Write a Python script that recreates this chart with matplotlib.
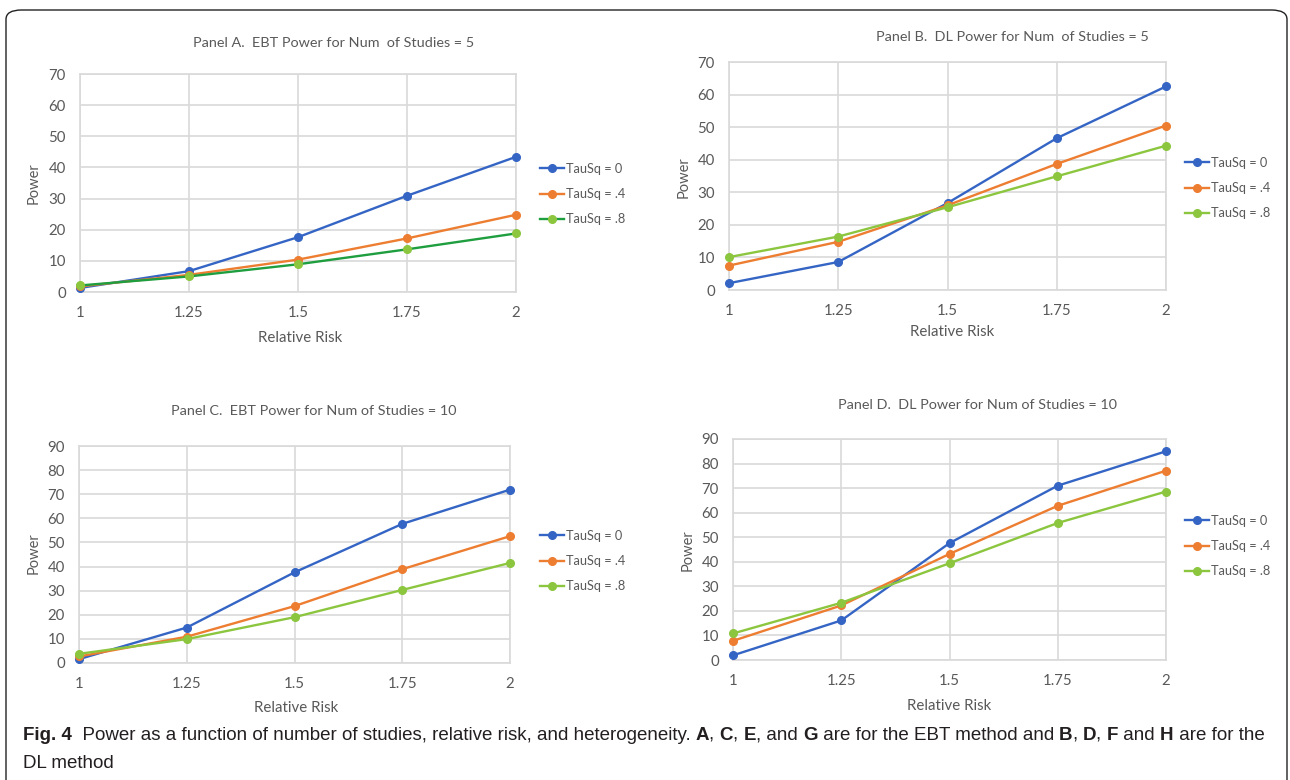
import numpy as np
import matplotlib.pyplot as plt
from matplotlib.patches import FancyBboxPatch

# --- data ---
rel_risk = [1, 1.25, 1.5, 1.75, 2]
series_labels = ['TauSq = 0', 'TauSq = .4', 'TauSq = .8']

# Panel A: EBT, 5 studies
ebt5_tau0 = [1.3, 6.7, 17.6, 30.9, 43.4]
ebt5_tau4 = [1.8, 5.5, 10.4, 17.2, 24.8]
ebt5_tau8 = [2.1, 5.0, 8.9, 13.7, 18.8]
# Panel B: DL, 5 studies
dl5_tau0 = [2.1, 8.6, 26.7, 46.6, 62.5]
dl5_tau4 = [7.5, 14.8, 26.0, 38.7, 50.5]
dl5_tau8 = [10.1, 16.4, 25.4, 34.9, 44.3]
# Panel C: EBT, 10 studies
ebt10_tau0 = [1.6, 14.7, 37.6, 57.7, 71.9]
ebt10_tau4 = [2.7, 10.9, 23.6, 38.9, 52.6]
ebt10_tau8 = [3.8, 9.9, 19.0, 30.3, 41.5]
# Panel D: DL, 10 studies
dl10_tau0 = [1.9, 16.1, 47.6, 71.0, 85.0]
dl10_tau4 = [7.8, 22.2, 43.2, 62.8, 77.1]
dl10_tau8 = [10.8, 23.3, 39.4, 55.8, 68.6]

titles = ['Panel A.  EBT Power for Num  of Studies = 5',
          'Panel B.  DL Power for Num  of Studies = 5',
          'Panel C.  EBT Power for Num of Studies = 10',
          'Panel D.  DL Power for Num of Studies = 10']

W, H = 1290, 780
TXT = '#595959'
GRID = '#D9D9D9'
BLUE, ORANGE, GREEN = '#3565C4', '#ED7D31', '#8CC63F'
DKGREEN = '#1E9E3E'

plt.rcParams['font.family'] = ['Lato', 'DejaVu Sans']

fig = plt.figure(figsize=(W / 100, H / 100), dpi=100)


def px_box(l, t, r, b):
    return [l / W, 1 - b / H, (r - l) / W, (b - t) / H]


# per panel: axes box (px), ymax, title pos, ylabel pos, xlabel pos, legend anchor
panels = [
    dict(box=(80, 74, 516, 292), ymax=70, data=(ebt5_tau0, ebt5_tau4, ebt5_tau8),
         title=(334, 43), ylab=(34, 183), xlab=(300, 338), leg=(540, 194), green_line=DKGREEN),
    dict(box=(729, 62, 1166, 290), ymax=70, data=(dl5_tau0, dl5_tau4, dl5_tau8),
         title=(1012, 37), ylab=(684, 177), xlab=(952, 332), leg=(1185, 188), green_line=GREEN),
    dict(box=(79, 446, 510, 663), ymax=90, data=(ebt10_tau0, ebt10_tau4, ebt10_tau8),
         title=(314, 411), ylab=(34, 553), xlab=(296, 708), leg=(540, 561), green_line=GREEN),
    dict(box=(733, 439, 1166, 660), ymax=90, data=(dl10_tau0, dl10_tau4, dl10_tau8),
         title=(977, 405), ylab=(688, 550), xlab=(949, 706), leg=(1185, 546), green_line=GREEN),
]

for p, title in zip(panels, titles):
    ax = fig.add_axes(px_box(*p['box']))
    line_cols = [BLUE, ORANGE, p['green_line']]
    mark_cols = [BLUE, ORANGE, GREEN]
    for vals, lab, lc, mc in zip(p['data'], series_labels, line_cols, mark_cols):
        ax.plot(rel_risk, vals, color=lc, lw=1.7, marker='o', ms=5.5,
                markerfacecolor=mc, markeredgecolor=mc, label=lab, clip_on=False, zorder=3)
    ax.set_xlim(1, 2)
    ax.set_ylim(0, p['ymax'])
    ax.set_xticks(rel_risk)
    ax.set_xticklabels(['1', '1.25', '1.5', '1.75', '2'])
    ax.set_yticks(np.arange(0, p['ymax'] + 1, 10))
    ax.grid(True, color=GRID, lw=1.2)
    ax.set_axisbelow(True)
    for s in ax.spines.values():
        s.set_color(GRID)
        s.set_linewidth(1.2)
    ax.tick_params(length=0, labelsize=10.8, colors=TXT)
    ax.tick_params(axis='x', pad=10)
    ax.tick_params(axis='y', pad=10)

    fig.text(p['title'][0] / W, 1 - p['title'][1] / H, title, ha='center', va='center',
             fontsize=10.4, color=TXT)
    fig.text(p['ylab'][0] / W, 1 - p['ylab'][1] / H, 'Power', ha='center', va='center',
             rotation=90, fontsize=10.5, color=TXT)
    fig.text(p['xlab'][0] / W, 1 - p['xlab'][1] / H, 'Relative Risk', ha='center', va='center',
             fontsize=10.8, color=TXT)
    leg = ax.legend(loc='center left', bbox_to_anchor=(p['leg'][0] / W, 1 - p['leg'][1] / H),
                    bbox_transform=fig.transFigure, frameon=False, borderpad=0,
                    borderaxespad=0, handlelength=1.9, handletextpad=0.15,
                    labelspacing=1.05, fontsize=9.2)
    for t in leg.get_texts():
        t.set_color(TXT)

# outer rounded border
border = FancyBboxPatch((6 / W, -0.05), 1281 / W, (H - 10) / H + 0.05,
                        boxstyle='round,pad=0,rounding_size=0.012',
                        transform=fig.transFigure, fill=False, ec='#222222', lw=1.0)
fig.patches.append(border)

# caption with bold runs
cap1 = [('Fig. 4', 'bold'), ('  Power as a function of number of studies, relative risk, and heterogeneity. ', 'normal'),
        ('A', 'bold'), (', ', 'normal'), ('C', 'bold'), (', ', 'normal'), ('E', 'bold'),
        (', and ', 'normal'), ('G', 'bold'), (' are for the EBT method and ', 'normal'),
        ('B', 'bold'), (', ', 'normal'), ('D', 'bold'), (', ', 'normal'), ('F', 'bold'),
        (' and ', 'normal'), ('H', 'bold'), (' are for the', 'normal')]
cap2 = [('DL method', 'normal')]

cap_font = ['Liberation Sans', 'DejaVu Sans']
renderer = fig.canvas.get_renderer()


def runs_width(runs, size):
    w = 0
    for txt, wt in runs:
        t = fig.text(0, 0, txt, fontsize=size, fontweight=wt, family=cap_font)
        w += t.get_window_extent(renderer=renderer).width
        t.remove()
    return w


def draw_runs(runs, x_px, y_px, size):
    x = x_px
    for txt, wt in runs:
        t = fig.text(x / W, 1 - y_px / H, txt, ha='left', va='center', fontsize=size,
                     fontweight=wt, color='#231F20', family=cap_font)
        x += t.get_window_extent(renderer=renderer).width
    return x


# size the caption so line 1 spans the same width as in the reference
cap_size = 12 * 1242 / runs_width(cap1, 12)
draw_runs(cap1, 23, 735, cap_size)
draw_runs(cap2, 23, 763, cap_size)

fig.savefig('out.png', dpi=100)
